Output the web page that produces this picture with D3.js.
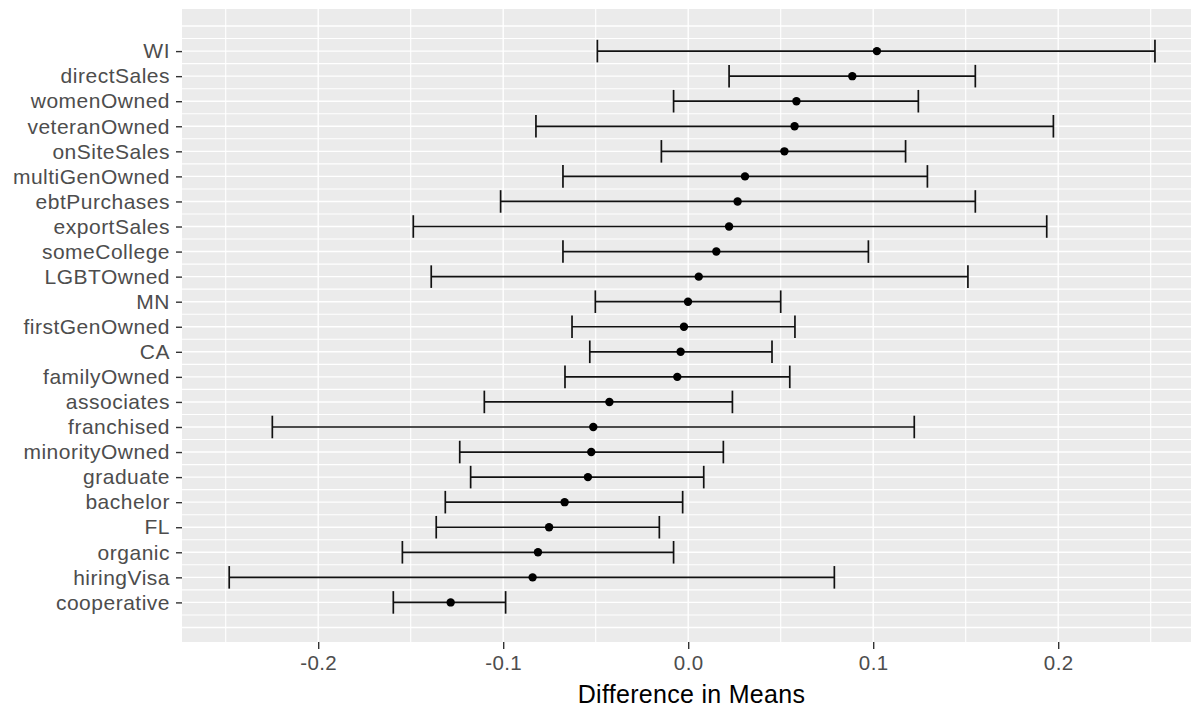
<!DOCTYPE html>
<html><head><meta charset="utf-8">
<script src="https://cdn.jsdelivr.net/npm/d3@7"></script>
<style>body{margin:0;background:#fff}svg{display:block}</style>
</head><body>
<script>
// categories listed top to bottom
const categories = ["WI","directSales","womenOwned","veteranOwned","onSiteSales","multiGenOwned","ebtPurchases","exportSales","someCollege","LGBTOwned","MN","firstGenOwned","CA","familyOwned","associates","franchised","minorityOwned","graduate","bachelor","FL","organic","hiringVisa","cooperative"];
const estimate = [0.102,0.0887,0.0585,0.0575,0.0520,0.0307,0.0267,0.0221,0.0152,0.0057,-0.0001,-0.0023,-0.0041,-0.0059,-0.0426,-0.0513,-0.0524,-0.0542,-0.0668,-0.0752,-0.0812,-0.0841,-0.1284];
const lower = [-0.0491,0.0221,-0.0079,-0.0823,-0.0145,-0.0677,-0.1014,-0.1486,-0.0677,-0.1389,-0.0502,-0.0628,-0.0532,-0.0666,-0.1102,-0.2248,-0.1235,-0.1176,-0.1313,-0.1362,-0.1545,-0.2481,-0.1594];
const upper = [0.2523,0.1552,0.1244,0.1974,0.1175,0.1293,0.1552,0.1938,0.0974,0.1512,0.0500,0.0577,0.0453,0.0549,0.0239,0.1222,0.0190,0.0084,-0.0030,-0.0156,-0.0079,0.0790,-0.0987];
const xTicks = [-0.2,-0.1,0.0,0.1,0.2];
const xTickLabels = ["-0.2","-0.1","0.0","0.1","0.2"];
const xMinor = [-0.25,-0.15,-0.05,0.05,0.15,0.25];
const xTitle = "Difference in Means";

const W = 1191, H = 708;
const panel = {left: 182, right: 1191, top: 9, bottom: 642};
const n = categories.length;
const data = categories.map((c,i)=>({cat:c, pos:n-i, est:estimate[i], lo:lower[i], hi:upper[i]}));
const FONT = "'Liberation Sans', Arial, sans-serif";

const x = d3.scaleLinear().domain([-0.25,0.25]).range([225.7,1150.7]);
const y = d3.scaleLinear().domain([-0.58, n+1.68]).range([panel.bottom, panel.top]);

const svg = d3.select("body").append("svg").attr("width",W).attr("height",H);
const defs = svg.append("defs");
defs.append("clipPath").attr("id","pc").append("rect")
  .attr("x",panel.left).attr("y",panel.top).attr("width",panel.right-panel.left).attr("height",panel.bottom-panel.top);

svg.append("rect").attr("x",panel.left).attr("y",panel.top)
  .attr("width",panel.right-panel.left).attr("height",panel.bottom-panel.top).attr("fill","#EBEBEB");

const g = svg.append("g").attr("clip-path","url(#pc)");
const yMajor = d3.range(0, n+2);
const yMinor = d3.range(0.5, n+1, 1);
g.selectAll(".hmin").data(yMinor).join("line")
  .attr("x1",panel.left).attr("x2",panel.right).attr("y1",d=>y(d)).attr("y2",d=>y(d))
  .attr("stroke","#fff").attr("stroke-width",1.1);
g.selectAll(".hmaj").data(yMajor).join("line")
  .attr("x1",panel.left).attr("x2",panel.right).attr("y1",d=>y(d)).attr("y2",d=>y(d))
  .attr("stroke","#fff").attr("stroke-width",1.4);
g.selectAll(".vmin").data(xMinor).join("line")
  .attr("y1",panel.top).attr("y2",panel.bottom).attr("x1",d=>x(d)).attr("x2",d=>x(d))
  .attr("stroke","#fff").attr("stroke-width",1.1);
g.selectAll(".vmaj").data(xTicks).join("line")
  .attr("y1",panel.top).attr("y2",panel.bottom).attr("x1",d=>x(d)).attr("x2",d=>x(d))
  .attr("stroke","#fff").attr("stroke-width",1.4);

// error bars
const capH = (y(0)-y(0.9))/2;
const eb = g.selectAll(".eb").data(data).join("g");
eb.append("line").attr("x1",d=>x(d.lo)).attr("x2",d=>x(d.hi)).attr("y1",d=>y(d.pos)).attr("y2",d=>y(d.pos))
  .attr("stroke","#111").attr("stroke-width",1.7);
eb.append("line").attr("x1",d=>x(d.lo)).attr("x2",d=>x(d.lo)).attr("y1",d=>y(d.pos)-capH).attr("y2",d=>y(d.pos)+capH)
  .attr("stroke","#111").attr("stroke-width",1.7);
eb.append("line").attr("x1",d=>x(d.hi)).attr("x2",d=>x(d.hi)).attr("y1",d=>y(d.pos)-capH).attr("y2",d=>y(d.pos)+capH)
  .attr("stroke","#111").attr("stroke-width",1.7);
eb.append("circle").attr("cx",d=>x(d.est)).attr("cy",d=>y(d.pos)).attr("r",4.2).attr("fill","#000");

// y axis
const ya = svg.append("g").attr("transform",`translate(${panel.left},0)`)
  .call(d3.axisLeft(y).tickValues(data.map(d=>d.pos)).tickFormat(p=>categories[n-p]).tickSize(6).tickPadding(6));
ya.select(".domain").remove();
ya.selectAll(".tick line").attr("stroke","#333").attr("stroke-width",1.4);
ya.selectAll(".tick text").attr("fill","#4D4D4D").style("font-family",FONT).style("font-size","21px").style("letter-spacing","0.5px");

// x axis
const xa = svg.append("g").attr("transform",`translate(0,${panel.bottom})`)
  .call(d3.axisBottom(x).tickValues(xTicks).tickFormat((d,i)=>xTickLabels[i]).tickSize(7).tickPadding(6));
xa.select(".domain").remove();
xa.selectAll(".tick line").attr("stroke","#333").attr("stroke-width",1.4);
xa.selectAll(".tick text").attr("fill","#4D4D4D").style("font-family",FONT).style("font-size","20.5px").style("letter-spacing","0.4px");

svg.append("text").attr("x",(panel.left+panel.right)/2 + 5).attr("y",703)
  .attr("text-anchor","middle").attr("fill","#000")
  .style("font-family",FONT).style("font-size","25px").style("letter-spacing","0.3px").text(xTitle);
</script>
</body></html>
